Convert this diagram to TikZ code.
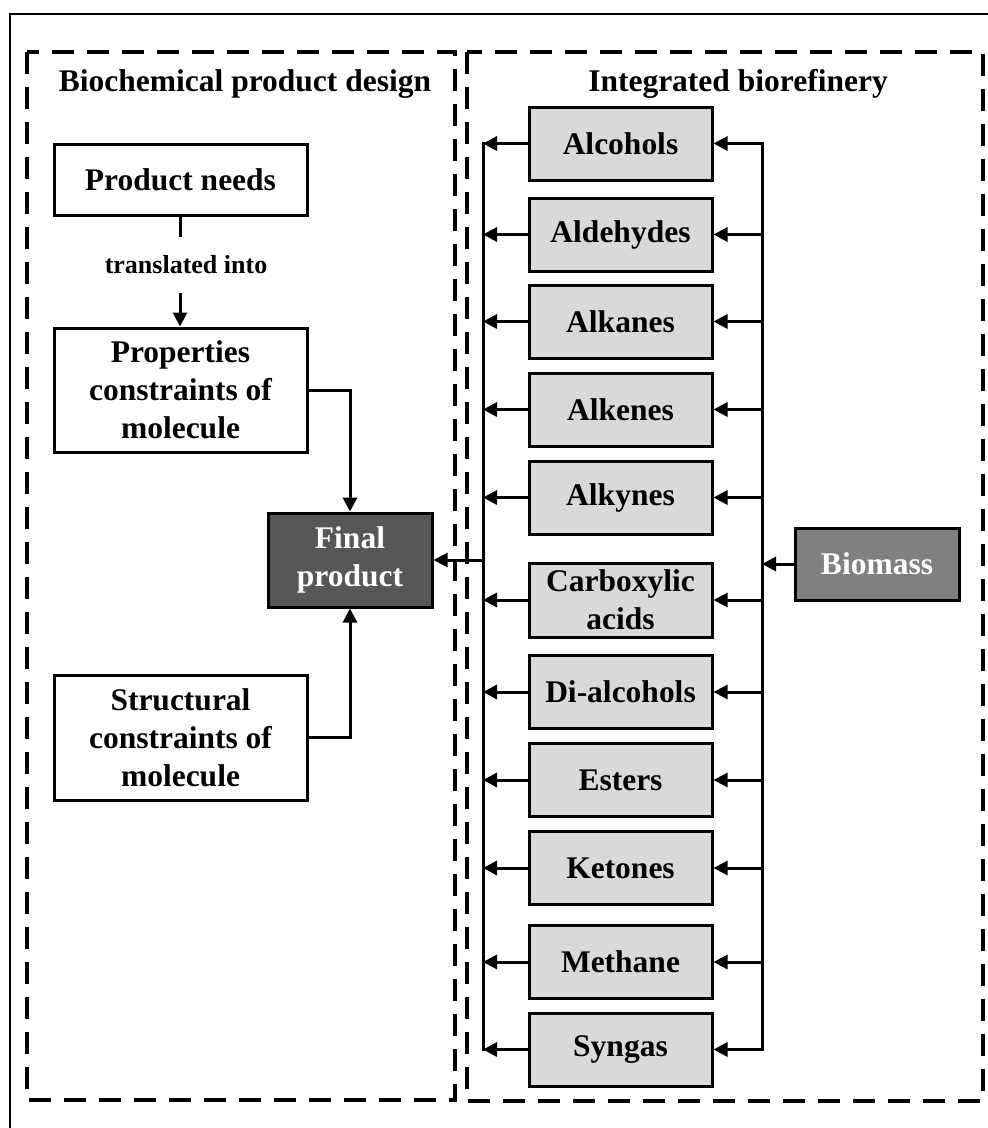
\documentclass[tikz,border=0pt]{standalone}
\usepackage{fontspec}
\setmainfont{Liberation Serif}
\usetikzlibrary{arrows.meta}
\definecolor{compgray}{HTML}{D9D9D9}
\definecolor{fingray}{HTML}{575757}
\definecolor{biogray}{HTML}{808080}
\begin{document}
\begin{tikzpicture}[x=1pt,y=-1pt,
  bigfont/.style={font=\bfseries\fontsize{31.5}{38}\selectfont},
  box/.style={draw, line width=3pt, bigfont, align=center, inner sep=0pt, minimum width=253pt},
  comp/.style={box, fill=compgray, minimum width=183pt, minimum height=73pt},
  conn/.style={line width=3pt},
  arr/.style={conn, -{Triangle[length=14pt,width=14pt]}},
  dashline/.style={line width=3.2pt, dash pattern=on 22pt off 13pt},
  titletext/.style={bigfont, anchor=base, inner sep=0pt}]
\useasboundingbox (0,0) rectangle (988,1128);
\fill[white] (0,0) rectangle (988,1128);
% outer frame
\draw[line width=2.4pt] (10,1130) -- (10,14) -- (990,14);
% dashed groups
\draw[dashline] (27,52) rectangle (455,1100);
\draw[dashline] (467,52) rectangle (983,1101);
% titles
\node[titletext] (t1) at (245,91) {Biochemical product design};
\node[titletext] (t2) at (738,91) {Integrated biorefinery};
% left column
\node[box, minimum height=71pt] (pn) at (180.5,179.5) {Product needs};
\node[font=\bfseries\fontsize{26}{31}\selectfont, inner sep=0pt] (tr) at (186,265) {translated into};
\coordinate (ta) at (180,237);
\coordinate (tb) at (180,293);
\node[box, minimum height=124pt] (prop) at (180.5,390) {Properties\\constraints of\\molecule};
\node[box, minimum height=125pt] (str) at (180.5,737.5) {Structural\\constraints of\\molecule};
\node[box, fill=fingray, text=white, minimum width=164pt, minimum height=94pt] (fin) at (350,560) {Final\\product};
\draw[conn] (pn.south -| ta) -- (ta);
\draw[arr] (tb) -- (tb |- prop.north);
\draw[arr] (prop.east) -| (fin.north);
\draw[arr] (str.east) -| (fin.south);
% compounds
\node[comp] (c1) at (620.5,143.5) {Alcohols};
\node[comp] (c2) at (620.5,234.5) {Aldehydes};
\node[comp] (c3) at (620.5,321.5) {Alkanes};
\node[comp] (c4) at (620.5,409.5) {Alkenes};
\node[comp] (c5) at (620.5,497.5) {Alkynes};
\node[comp, minimum height=74pt] (c6) at (620.5,600) {Carboxylic\\acids};
\node[comp] (c7) at (620.5,692) {Di-alcohols};
\node[comp] (c8) at (620.5,780) {Esters};
\node[comp] (c9) at (620.5,868) {Ketones};
\node[comp] (c10) at (620.5,962) {Methane};
\node[comp] (c11) at (620.5,1049.5) {Syngas};
\node[box, fill=biogray, text=white, minimum width=164pt, minimum height=72pt] (bio) at (877,564) {Biomass};
\coordinate (lbus) at (483,0);
\coordinate (rbus) at (762,0);
\draw[conn, line cap=rect] (c1.west -| lbus) -- (c11.west -| lbus);
\draw[conn, line cap=rect] (c1.east -| rbus) -- (c11.east -| rbus);
\foreach \i in {1,...,11}{
  \draw[arr] (c\i.west) -- (c\i.west -| lbus);
  \draw[arr] (c\i.east -| rbus) -- (c\i.east);
}
\draw[arr] (fin.east -| lbus) -- (fin.east);
\draw[arr] (bio.west) -- (bio.west -| rbus);
\end{tikzpicture}
\end{document}
